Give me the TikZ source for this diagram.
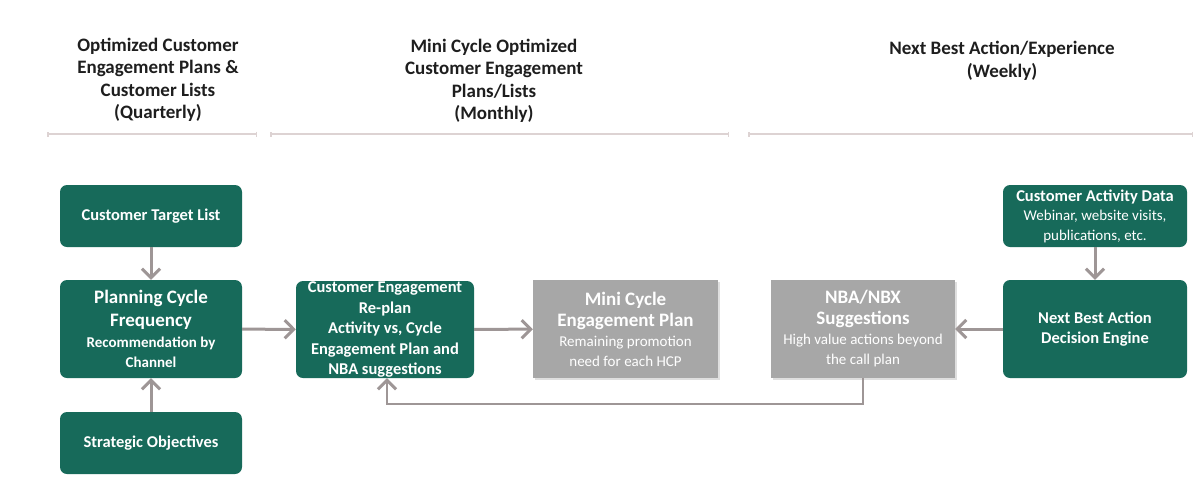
\documentclass[tikz,border=0pt]{standalone}
\usepackage{fontspec}
\setmainfont{Carlito}
\usetikzlibrary{arrows.meta,shadows}
\definecolor{teal}{HTML}{176A5A}
\definecolor{boxgray}{HTML}{A7A7A7}
\definecolor{arrowgray}{HTML}{9E9696}
\definecolor{rulecol}{HTML}{DDD3D3}
\definecolor{headcol}{HTML}{1E1E1E}
\newcommand{\ttl}[1]{{\fontsize{19}{22}\bfseries\selectfont #1}}
\newcommand{\sub}[1]{{\fontsize{15}{18}\mdseries\selectfont #1}}
\newcommand{\subb}[1]{{\fontsize{15}{18}\bfseries\selectfont #1}}
\tikzset{
  flowtip/.tip={Straight Barb[length=9pt,width=18pt,line width=3pt,line join=miter]}
}
\begin{document}
\begin{tikzpicture}[x=1pt,y=-1pt,
  greenbox/.style={draw=none,fill=teal,rounded corners=7pt,text=white,align=center,
    inner sep=0pt,font=\fontsize{16.5}{20.5}\bfseries\selectfont},
  graybox/.style={draw=none,fill=boxgray,text=white,align=center,inner sep=0pt,
    font=\fontsize{15}{20}\selectfont,
    drop shadow={opacity=0.25,shadow xshift=1.5pt,shadow yshift=-1.5pt}},
  header/.style={align=center,text=headcol,font=\fontsize{19}{22.5}\bfseries\selectfont},
  flow/.style={draw=arrowgray,line width=3pt,arrows={-flowtip}},
  rule/.style={draw=rulecol,line width=1.5pt,{Bar[width=5pt,line width=1.5pt]}-{Bar[width=5pt,line width=1.5pt]}}]
\useasboundingbox (0,0) rectangle (1204,493);

% period headings
\node[header] (h1) at (158,80) {Optimized Customer\\Engagement Plans \&\\Customer Lists\\(Quarterly)};
\node[header] (h2) at (494,81) {Mini Cycle Optimized\\Customer Engagement\\Plans/Lists\\(Monthly)};
\node[header] (h3) at (1002,61) {Next Best Action/Experience\\(Weekly)};

% period rules
\coordinate (r1a) at (47,134); \coordinate (r1b) at (257,134);
\coordinate (r2a) at (270,134); \coordinate (r2b) at (729,134);
\coordinate (r3a) at (748,134); \coordinate (r3b) at (1193,134);
\draw[rule] (r1a) -- (r1b);
\draw[rule] (r2a) -- (r2b);
\draw[rule] (r3a) -- (r3b);

% quarterly planning
\node[greenbox,minimum width=182pt,minimum height=62pt] (ctl) at (151,216) {Customer Target List};
\node[greenbox,minimum width=182pt,minimum height=98pt] (pcf) at (151,329)
  {\ttl{Planning Cycle}\\[3pt]\ttl{Frequency}\\\subb{Recommendation by}\\\subb{Channel}};
\node[greenbox,minimum width=182pt,minimum height=62pt] (so) at (151,443) {Strategic Objectives};

% monthly re-planning
\node[greenbox,minimum width=178pt,minimum height=97pt] (cer) at (385,329.5)
  {Customer Engagement\\Re-plan\\Activity vs, Cycle\\Engagement Plan and\\NBA suggestions};
\node[graybox,minimum width=185pt,minimum height=98pt] (mcep) at (625.5,329)
  {\ttl{Mini Cycle}\\[1pt]\ttl{Engagement Plan}\\Remaining promotion\\need for each HCP};

% weekly next best action
\node[graybox,minimum width=184pt,minimum height=98pt] (nbx) at (863,329)
  {\ttl{NBA/NBX}\\[1pt]\ttl{Suggestions}\\High value actions beyond\\the call plan};
\node[greenbox,minimum width=184pt,minimum height=62pt] (cad) at (1095,216)
  {Customer Activity Data\\[-1pt]\sub{Webinar, website visits,}\\[-1pt]\sub{publications, etc.}};
\node[greenbox,minimum width=184pt,minimum height=98pt] (nbe) at (1095,329)
  {Next Best Action\\Decision Engine};

% connectors
\draw[flow] (ctl) -- (pcf);
\draw[flow] (so) -- (pcf);
\draw[flow] (pcf) -- (cer);
\draw[flow] (cer) -- (mcep);
\draw[flow] (nbe) -- (nbx);
\draw[flow] (cad) -- (nbe);
\coordinate (fb) at (863,404);
\draw[flow,line width=2.5pt] (nbx.south) -- (fb) -| ([xshift=2pt]cer.south);
\end{tikzpicture}
\end{document}
